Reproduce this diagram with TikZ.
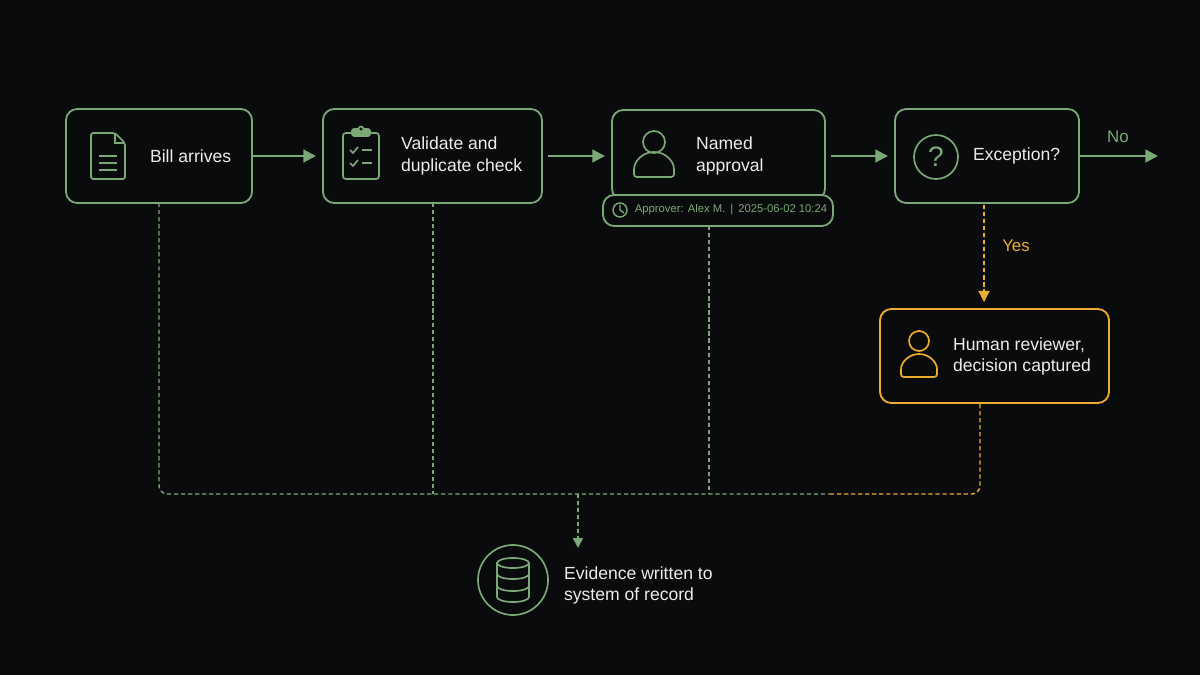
\documentclass[tikz,border=0pt]{standalone}
\usepackage{fontspec}
\setmainfont{Liberation Sans}
\usetikzlibrary{arrows.meta,positioning,calc}
\definecolor{bg}{RGB}{10,11,13}
\definecolor{leaf}{RGB}{122,168,118}
\definecolor{amber}{RGB}{236,172,48}
\definecolor{ink}{RGB}{236,236,236}

\begin{document}
\begin{tikzpicture}[x=0.025cm,y=-0.025cm,semithick,
  box/.style={draw=leaf,line width=1.3pt,rounded corners=8pt,fill=bg},
  txt/.style={text=ink,font=\fontsize{12.5}{15}\selectfont,align=left,anchor=west},
  flow/.style={draw=leaf,line width=1.5pt,-{Triangle[length=9pt,width=9pt]}},
  trace/.style={draw=leaf,line width=1pt,dash pattern=on 3pt off 2pt},
  icon/.style={draw=leaf,line width=1.2pt}]
 \fill[bg] (0,0) rectangle (1200,675);
 % dashed evidence lines
 \draw[trace,rounded corners=6pt] (159,203) -- (159,494) -- (830,494);
 \draw[trace] (433,203) -- (433,494);
 \draw[trace] (709,226) -- (709,494);
 \draw[trace,draw=amber,rounded corners=6pt] (830,494) -- (980,494) -- (980,403);
 \draw[trace,-{Triangle[length=7pt,width=7pt]},fill=leaf] (578,494) -- (578,548);
 % boxes
 \draw[box] (66,109) rectangle (252,203);
 \draw[box] (323,109) rectangle (542,203);
 \draw[box] (612,110) rectangle (825,200);
 \draw[box] (603,195) rectangle (833,226);
 \draw[box] (895,109) rectangle (1079,203);
 \draw[box,draw=amber] (880,309) rectangle (1109,403);
 \node (bill) at (159,156) {};
 \node (check) at (432,156) {};
 \node (appr) at (718,155) {};
 \node (exc) at (987,156) {};
 \node (rev) at (994,356) {};
 \coordinate (noend) at (1158,156);
 \node[txt] (billT) at (145,156) {Bill arrives};
 \node[txt] (checkT) at (396,156) {Validate and\\duplicate check};
 \node[txt] (apprT) at (691,156) {Named\\approval};
 \node[txt] (excT) at (968,156) {Exception?};
 \node[txt] (revT) at (948,356) {Human reviewer,\\decision captured};
 \node[txt] (evT) at (559,585) {Evidence written to\\system of record};
 \node[text=leaf,font=\fontsize{8}{10}\selectfont] (badge) at (731,210) {Approver: Alex M.~\,|\,~2025-06-02 10:24};
 \node[text=leaf,font=\fontsize{12}{14}\selectfont] (no) at (1118,137) {No};
 \node[text=amber,font=\fontsize{12}{14}\selectfont] (yes) at (1016,246) {Yes};
 % flow arrows
 \draw[flow] (252,156) -- (316,156);
 \draw[flow] (548,156) -- (605,156);
 \draw[flow] (831,156) -- (888,156);
 \draw[flow] (1079,156) -- (noend);
 \draw[trace,draw=amber,fill=amber,-{Triangle[length=8pt,width=8pt]}] (984,205) -- (984,302);
 % icons
 \draw[icon,rounded corners=1.5pt] (91,133) -- (115,133) -- (125,143) -- (125,179) -- (91,179) -- cycle;
 \draw[icon] (115,133) -- (115,143) -- (125,143);
 \foreach \yy in {156,163,170} \draw[icon] (99,\yy) -- (117,\yy);
 \draw[icon,rounded corners=2pt] (343,133) rectangle (379,179);
 \draw[icon,fill=leaf,rounded corners=1.5pt] (352,129) rectangle (370,136);
 \draw[icon,fill=bg] (361,129) circle (2.5);
 \foreach \yy in {150,163}{
   \draw[icon] (350,\yy) -- (353,\yy+3) -- (358,\yy-3);
   \draw[icon] (362,\yy) -- (372,\yy);}
 \draw[icon] (654,142) circle (11);
 \draw[icon,rounded corners=2pt] (634,177) -- (634,172) arc[start angle=180,end angle=360,radius=20] -- (674,177) -- cycle;
 \draw[icon] (936,157) circle (22);
 \node[text=leaf,font=\fontsize{20}{20}\selectfont] (qm) at (936,157) {?};
 \draw[icon,draw=amber] (919,341) circle (10);
 \draw[icon,draw=amber,rounded corners=2pt] (901,377) -- (901,372) arc[start angle=180,end angle=360,radius=18] -- (937,377) -- cycle;
 \draw[icon,line width=1pt] (620,210) circle (7);
 \draw[icon,line width=1pt] (620,205) -- (620,210) -- (624,213);
 \draw[icon] (513,580) circle (35);
 \draw[icon] (513,563) ellipse (16 and 5);
 \draw[icon] (497,563) -- (497,597) arc[start angle=180,end angle=0,x radius=16,y radius=5] -- (529,563);
 \draw[icon] (497,574) arc[start angle=180,end angle=0,x radius=16,y radius=5];
 \draw[icon] (497,586) arc[start angle=180,end angle=0,x radius=16,y radius=5];
\end{tikzpicture}
\end{document}
